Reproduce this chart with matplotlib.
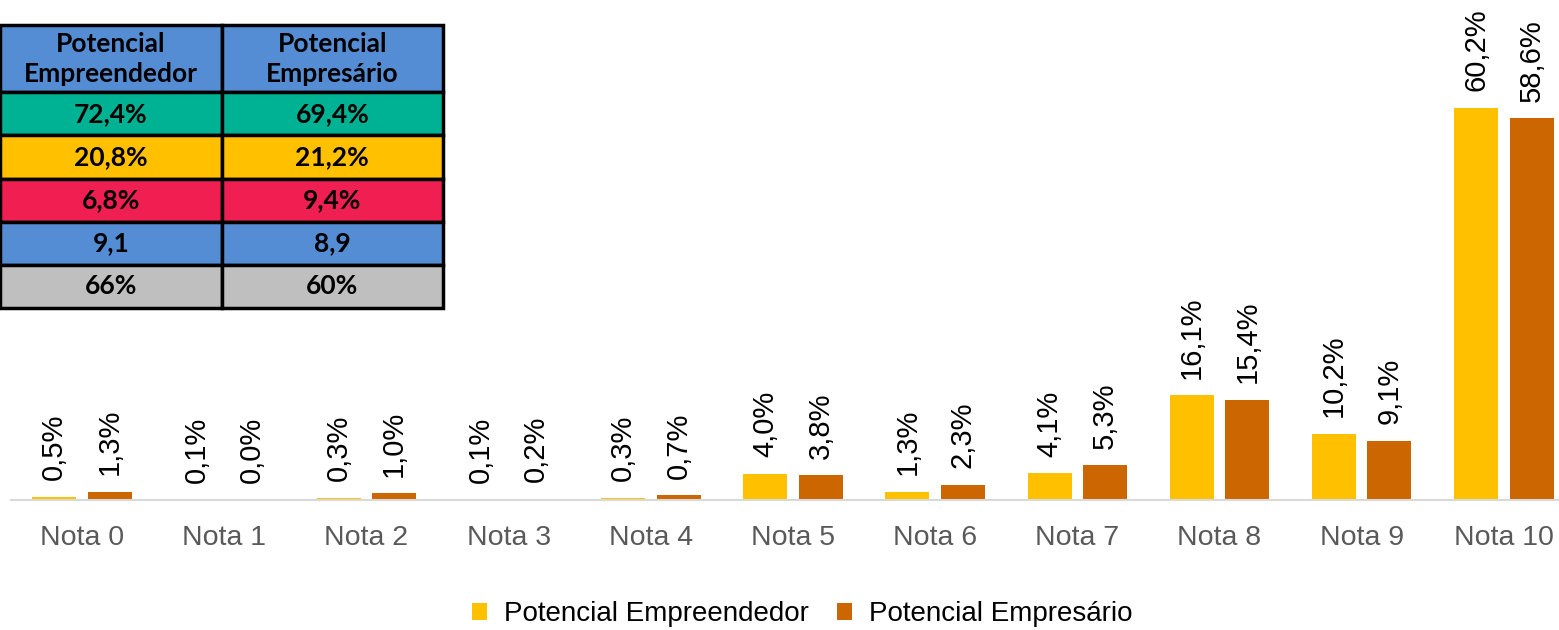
import matplotlib.pyplot as plt
import numpy as np

# Chart data
categories = ['Nota 0', 'Nota 1', 'Nota 2', 'Nota 3', 'Nota 4', 'Nota 5',
              'Nota 6', 'Nota 7', 'Nota 8', 'Nota 9', 'Nota 10']
empreendedor = [0.5, 0.1, 0.3, 0.1, 0.3, 4.0, 1.3, 4.1, 16.1, 10.2, 60.2]
empresario = [1.3, 0.0, 1.0, 0.2, 0.7, 3.8, 2.3, 5.3, 15.4, 9.1, 58.6]
series_names = ['Potencial Empreendedor', 'Potencial Empresário']

# Summary table data
table_header = ['Potencial\nEmpreendedor', 'Potencial\nEmpresário']
table_rows = [['72,4%', '69,4%'],
              ['20,8%', '21,2%'],
              ['6,8%', '9,4%'],
              ['9,1', '8,9'],
              ['66%', '60%']]
row_colors = ['#00B294', '#FFC000', '#EF1F52', '#548DD4', '#BFBFBF']
header_color = '#548DD4'

yellow = '#FFC000'
orange = '#CC6600'

fig = plt.figure(figsize=(15.59, 6.3), dpi=100)
W, H = 1559, 630

# Bar chart axes (positions in pixels -> figure fraction)
ax = fig.add_axes([11 / W, 130 / H, (1575 - 11) / W, 500 / H])
x = np.arange(len(categories))
bw = 0.31
b1 = ax.bar(x - 0.195, empreendedor, bw, color=yellow, label=series_names[0])
b2 = ax.bar(x + 0.195, empresario, bw, color=orange, label=series_names[1])

for bars, vals in [(b1, empreendedor), (b2, empresario)]:
    for b, v in zip(bars, vals):
        ax.annotate(f'{v:.1f}%'.replace('.', ','),
                    (b.get_x() + b.get_width() / 2, b.get_height()),
                    xytext=(0, 12), textcoords='offset points',
                    rotation=90, ha='center', va='bottom',
                    fontsize=21, family='Liberation Sans', color='black')

ax.set_xlim(-0.5, len(categories) - 0.5)
ax.set_ylim(0, 76.8)
ax.set_xticks(x)
ax.set_xticklabels(categories, fontsize=20.5, family='Liberation Sans', color='#595959')
ax.tick_params(axis='x', length=0, pad=18)
ax.set_yticks([])
for s in ['top', 'right', 'left']:
    ax.spines[s].set_visible(False)
ax.spines['bottom'].set_color('#D9D9D9')
ax.spines['bottom'].set_linewidth(1.5)
ax.patch.set_alpha(0)

fig.legend(handles=[b1, b2], loc='center', bbox_to_anchor=(802 / W, 1 - 614 / H),
           ncol=2, frameon=False, prop={'family': 'Liberation Sans', 'size': 20},
           handlelength=0.55, handleheight=0.55, handletextpad=0.6, columnspacing=1.0)

# Summary table
tax = fig.add_axes([0, (630 - 308) / H, 443 / W, 283 / H])
tax.axis('off')
tbl = tax.table(cellText=[table_header] + table_rows,
                cellColours=[[header_color] * 2] + [[c, c] for c in row_colors],
                cellLoc='center', bbox=[0, 0, 1, 1])
tbl.auto_set_font_size(False)
for (r, c), cell in tbl.get_celld().items():
    cell.set_height(67 if r == 0 else 43)
    cell.set_linewidth(2.5)
    cell.set_edgecolor('black')
    txt = cell.get_text()
    txt.set_fontfamily('Lato')
    txt.set_fontweight('bold')
    txt.set_fontsize(19)
    txt.set_linespacing(1.3)

fig.savefig('out.png', dpi=100)
